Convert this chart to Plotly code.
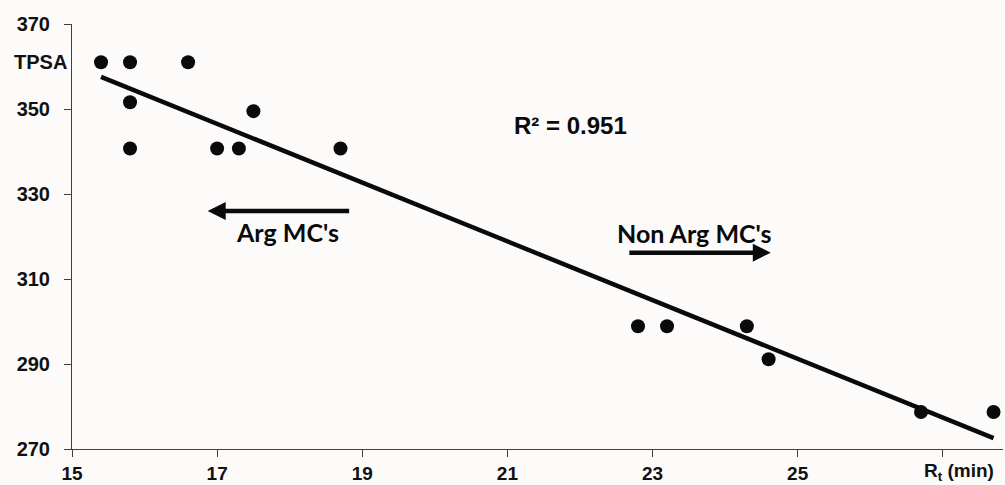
import numpy as np
import plotly.graph_objects as go

# Data
rt_min = [15.4, 15.8, 15.8, 15.8, 16.6, 17.0, 17.3, 17.5, 18.7,
          22.8, 23.2, 24.3, 24.6, 26.7, 27.7]
tpsa = [361.0, 361.0, 351.6, 340.7, 361.0, 340.7, 340.7, 349.5, 340.7,
        298.9, 298.9, 298.9, 291.1, 278.7, 278.7]
x_ticks = [15, 17, 19, 21, 23, 25, 27]
x_tick_text = ["15", "17", "19", "21", "23", "25", ""]
y_ticks = [270, 290, 310, 330, 350, 370]
r2_label = "R² = 0.951"

bg = "#fdfafa"
ink = "#0a0a0a"

slope, intercept = np.polyfit(rt_min, tpsa, 1)
fit_x = [min(rt_min), max(rt_min)]
fit_y = [slope * v + intercept for v in fit_x]

fig = go.Figure()
fig.add_trace(go.Scatter(x=fit_x, y=fit_y, mode="lines",
                         line=dict(color=ink, width=4.5), showlegend=False,
                         hoverinfo="skip"))
fig.add_trace(go.Scatter(x=rt_min, y=tpsa, mode="markers",
                         marker=dict(color=ink, size=14), showlegend=False))

axis_font = dict(family="Liberation Sans, Arial", size=20, color="#111111", weight="bold")
x_font = dict(family="Liberation Sans, Arial", size=19, color="#111111", weight="bold")

fig.update_xaxes(range=[15, 27.83], tickvals=x_ticks, ticktext=x_tick_text,
                 showgrid=False, zeroline=False, showline=True, linecolor="#404040",
                 linewidth=1, ticks="outside", ticklen=7, tickcolor="#404040",
                 tickfont=x_font, ticklabelstandoff=0, automargin=False)
fig.update_yaxes(range=[270, 370], tickvals=y_ticks,
                 showgrid=False, zeroline=False, showline=True, linecolor="#404040",
                 linewidth=1, ticks="outside", ticklen=7, tickcolor="#404040",
                 tickfont=axis_font, ticklabelstandoff=10, automargin=False)

annots = [
    dict(text="TPSA", xref="paper", x=0, xanchor="right", xshift=-3,
         yref="y", y=361, yanchor="middle", showarrow=False, font=axis_font),
    dict(text="R<sub>t</sub> (min)", xref="x", x=27.23, xanchor="center",
         yref="paper", y=0, yanchor="middle", yshift=-23, showarrow=False,
         font=x_font),
    dict(text=r2_label, xref="x", x=21.87, yref="y", y=346.2, showarrow=False,
         font=dict(family="Liberation Sans, Arial", size=24, color=ink, weight="bold")),
    dict(text="Arg MC's", xref="x", x=17.97, yref="y", y=321.1, showarrow=False,
         font=dict(family="Lato", size=25, color=ink, weight="bold")),
    dict(text="Non Arg MC's", xref="x", x=23.58, yref="y", y=320.8, showarrow=False,
         font=dict(family="Lato", size=25, color=ink, weight="bold")),
    dict(text="", xref="x", yref="y", x=16.87, y=326.0, axref="x", ayref="y",
         ax=18.84, ay=326.0, showarrow=True, arrowhead=2, arrowsize=0.8,
         arrowwidth=4.5, arrowcolor=ink),
    dict(text="", xref="x", yref="y", x=24.63, y=316.2, axref="x", ayref="y",
         ax=22.66, ay=316.2, showarrow=True, arrowhead=2, arrowsize=0.8,
         arrowwidth=4.5, arrowcolor=ink),
]
fig.update_layout(annotations=annots, width=1005, height=485,
                  margin=dict(l=72, r=2, t=24, b=36, autoexpand=False),
                  paper_bgcolor=bg, plot_bgcolor=bg, showlegend=False)

fig.write_html("out.html", config={"displayModeBar": False},
               post_script="document.body.style.margin='0';document.body.style.padding='0';")
